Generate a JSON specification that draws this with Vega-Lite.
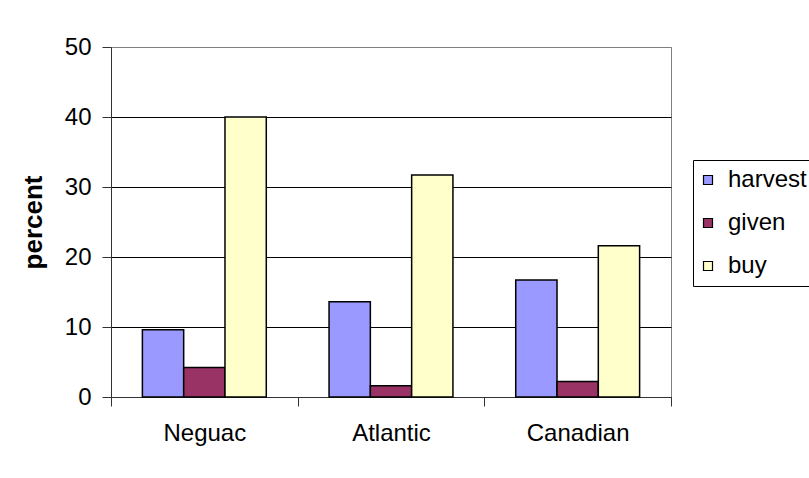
{
  "$schema": "https://vega.github.io/schema/vega-lite/v6.json",
  "width": 560,
  "height": 350,
  "autosize": {"type": "none"},
  "padding": {"left": 111, "top": 47, "right": 138, "bottom": 81},
  "background": "white",
  "data": {
    "values": [
      {"region": "Neguac", "source": "harvest", "percent": 9.6},
      {"region": "Neguac", "source": "given", "percent": 4.2},
      {"region": "Neguac", "source": "buy", "percent": 40.0},
      {"region": "Atlantic", "source": "harvest", "percent": 13.6},
      {"region": "Atlantic", "source": "given", "percent": 1.6},
      {"region": "Atlantic", "source": "buy", "percent": 31.7},
      {"region": "Canadian", "source": "harvest", "percent": 16.7},
      {"region": "Canadian", "source": "given", "percent": 2.2},
      {"region": "Canadian", "source": "buy", "percent": 21.6}
    ]
  },
  "mark": {"type": "bar", "stroke": "black", "strokeWidth": 1.5},
  "encoding": {
    "x": {
      "field": "region",
      "type": "nominal",
      "sort": ["Neguac", "Atlantic", "Canadian"],
      "scale": {"paddingInner": 0, "paddingOuter": 0},
      "axis": {
        "title": null,
        "labelAngle": 0,
        "tickBand": "extent",
        "grid": false,
        "domainColor": "#333333",
        "tickColor": "#333333",
        "tickSize": 9,
        "labelPadding": 15,
        "labelFontSize": 24,
        "labelFont": "Liberation Sans",
        "labelColor": "black"
      }
    },
    "xOffset": {
      "field": "source",
      "sort": ["harvest", "given", "buy"],
      "scale": {"paddingInner": 0, "paddingOuter": 0.76}
    },
    "y": {
      "field": "percent",
      "type": "quantitative",
      "scale": {"domain": [0, 50], "nice": false},
      "axis": {
        "values": [0, 10, 20, 30, 40, 50],
        "title": "percent",
        "titleFont": "Liberation Sans",
        "titleFontSize": 26,
        "titleFontWeight": "bold",
        "titleColor": "black",
        "titlePadding": 18,
        "labelFont": "Liberation Sans",
        "labelFontSize": 24,
        "labelColor": "black",
        "labelPadding": 11,
        "tickSize": 9,
        "tickColor": "#333333",
        "domainColor": "#333333",
        "grid": true,
        "gridColor": {"condition": {"test": "datum.value == 50", "value": "#808080"}, "value": "#000000"},
        "gridOpacity": 1,
        "gridWidth": 1
      }
    },
    "color": {
      "field": "source",
      "type": "nominal",
      "sort": ["harvest", "given", "buy"],
      "scale": {"domain": ["harvest", "given", "buy"], "range": ["#9999FF", "#993366", "#FFFFCC"]},
      "legend": {
        "title": null,
        "orient": "none",
        "legendX": 582,
        "legendY": 113,
        "strokeColor": "black",
        "fillColor": "white",
        "padding": 8,
        "symbolOffset": -5,
        "symbolType": "square",
        "symbolSize": 81,
        "symbolStrokeColor": "black",
        "symbolStrokeWidth": 1.2,
        "labelFont": "Liberation Sans",
        "labelFontSize": 24,
        "labelColor": "black",
        "labelOffset": 8,
        "rowPadding": 19
      }
    }
  },
  "config": {"view": {"stroke": "#808080"}}
}
